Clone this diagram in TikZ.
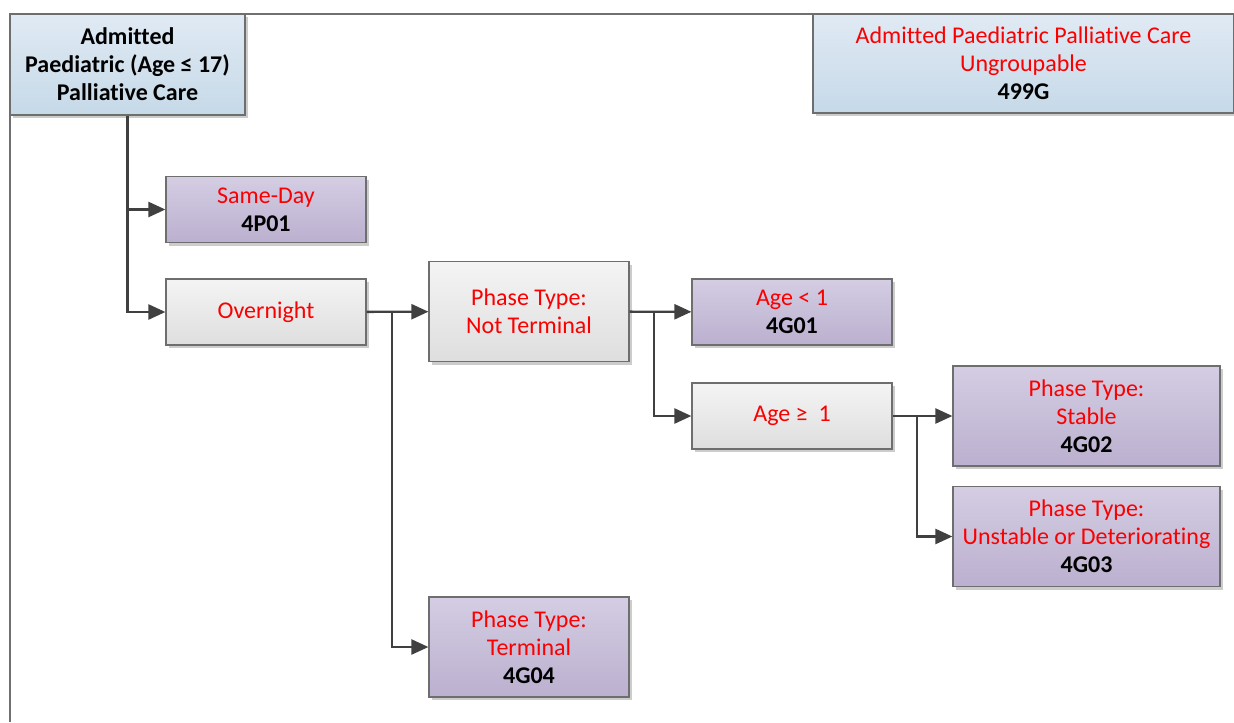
\documentclass[tikz,border=0pt]{standalone}
\usepackage{fontspec}
\setmainfont{Carlito}[Ligatures=NoCommon]
\usetikzlibrary{arrows.meta,shadows}
\definecolor{cRed}{HTML}{FA0000}
\definecolor{cEdge}{HTML}{6E6E6E}
\definecolor{cWire}{HTML}{404040}
\definecolor{cFrame}{HTML}{707070}
\definecolor{cBlueT}{HTML}{E0EAF4}
\definecolor{cBlueB}{HTML}{C6D9E8}
\definecolor{cLilacT}{HTML}{D4CDE3}
\definecolor{cLilacB}{HTML}{BBB0CF}
\definecolor{cGreyT}{HTML}{F4F4F4}
\definecolor{cGreyB}{HTML}{DEDEDE}
\newcommand{\drgcode}[1]{\\\textcolor{black}{\bfseries #1}}
\tikzset{
  gbox/.style={draw=cEdge,line width=0.6pt,top color=#1T,bottom color=#1B,align=center,
    font=\fontsize{12}{14}\selectfont,text=cRed,inner sep=2pt,
    drop shadow={shadow xshift=1.5pt,shadow yshift=-1.5pt,opacity=0.2,fill=black}},
  gbox/.default=cLilac,
  small/.style={minimum width=100pt,minimum height=33pt},
  tall/.style={minimum width=100pt,minimum height=50pt},
  wide/.style={minimum width=133.5pt,minimum height=50pt},
  wire/.style={-{Triangle[length=8.5pt,width=7.5pt]},line width=1.2pt,color=cWire},
  frame/.style={line width=0.8pt,color=cFrame},
}

\begin{document}
\begin{tikzpicture}[x=0.5pt,y=-0.5pt]
  \useasboundingbox (0,0) rectangle (1234,722);
  \draw[frame] (10,722) -- (10,14) -- (1234,14);
  % header boxes
  \node[gbox=cBlue,text=black,font=\fontsize{12}{14}\selectfont\bfseries,minimum width=117.5pt,minimum height=50.5pt] (root) at (127.5,64.5) {Admitted\\Paediatric (Age ≤ 17)\\Palliative Care};
  \node[gbox=cBlue,minimum width=210.5pt,minimum height=49.5pt] (ungroup) at (1023.5,63.5) {Admitted Paediatric Palliative Care\\Ungroupable\drgcode{499G}};
  % level 1
  \node[gbox,small] (sameday) at (266,209.5) {Same-Day\drgcode{4P01}};
  \node[gbox=cGrey,small] (overnight) at (266,312) {Overnight};
  % level 2
  \node[gbox=cGrey,tall] (notterm) at (529,311.5) {Phase Type:\\Not Terminal};
  \node[gbox,tall] (terminal) at (529,647) {Phase Type:\\Terminal\drgcode{4G04}};
  % level 3
  \node[gbox,small] (agelt) at (792,312) {Age < 1\drgcode{4G01}};
  \node[gbox=cGrey,small] (agege) at (792,416) {Age ≥\ \ 1};
  % level 4
  \node[gbox,wide] (stable) at (1086.5,416) {Phase Type:\\Stable\drgcode{4G02}};
  \node[gbox,wide] (unstable) at (1086.5,536.5) {Phase Type:\\Unstable or Deteriorating\drgcode{4G03}};
  % connectors
  \coordinate (j1) at (392,312);
  \coordinate (j2) at (654,312);
  \coordinate (j3) at (917,416);
  \draw[wire] (root) |- (sameday);
  \draw[wire] (root) |- (overnight);
  \draw[wire] (overnight) -- (notterm);
  \draw[wire] (j1) |- (terminal);
  \draw[wire] (notterm) -- (agelt);
  \draw[wire] (j2) |- (agege);
  \draw[wire] (agege) -- (stable);
  \draw[wire] (j3) |- (unstable);
\end{tikzpicture}
\end{document}
